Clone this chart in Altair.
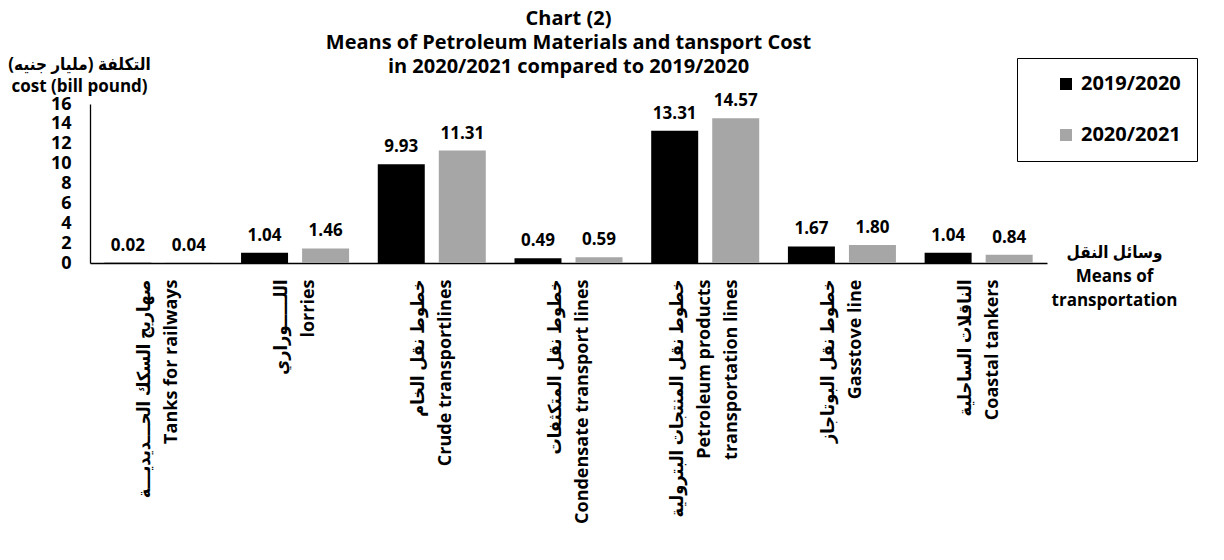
import altair as alt
import pandas as pd

F = "Open Sans, DejaVu Sans Condensed, DejaVu Sans, sans-serif"

arabic = [
    "صهاريج السكك الحـــديديـــة",
    "اللـــــوراري",
    "خطوط نقل الخام",
    "خطوط نقل المتكثفات",
    "خطوط نقل المنتجات البترولية",
    "خطوط نقل البوتاجاز",
    "الناقلات الساحلية",
]
english = [
    "Tanks  for railways",
    "lorries",
    "Crude transportlines",
    "Condensate transport lines",
    "Petroleum products|transportation lines",
    "Gasstove line",
    "Coastal  tankers",
]
years = ["2019/2020", "2020/2021"]
v2019 = [0.02, 1.04, 9.93, 0.49, 13.31, 1.67, 1.04]
v2020 = [0.04, 1.46, 11.31, 0.59, 14.57, 1.80, 0.84]
y_ticks = [0, 2, 4, 6, 8, 10, 12, 14, 16]

categories = [a + "|" + e for a, e in zip(arabic, english)]

rows = []
for c, a, b in zip(categories, v2019, v2020):
    rows.append({"cat": c, "year": years[0], "value": a})
    rows.append({"cat": c, "year": years[1], "value": b})
df = pd.DataFrame(rows)

base = alt.Chart(df).encode(
    x=alt.X(
        "cat:N",
        sort=categories,
        scale=alt.Scale(paddingInner=0, paddingOuter=0),
        axis=alt.Axis(
            labelExpr="split(datum.label, '|')",
            labelAngle=270,
            labelAlign="right",
            labelBaseline="middle",
            labelPadding=16,
            labelFontSize=18,
            labelLineHeight=27,
            labelFontWeight="bold",
            labelFont=F,
            labelColor="black",
            labelLimit=400,
            labelOffset={
                "condition": {
                    "test": "indexof(datum.value, 'transportation lines') >= 0",
                    "value": -27,
                },
                "value": -13,
            },
            ticks=False,
            domainColor="black",
            domainWidth=1.3,
            title=["وسائل النقل", "Means of", "transportation"],
            titleAngle=0,
            titleAlign="center",
            titleBaseline="top",
            titleX=1024,
            titleY=-19,
            titleLineHeight=24,
            titleFontSize=17,
            titleFontWeight="bold",
            titleFont=F,
            titleColor="black",
            titleLimit=300,
        ),
    ),
    xOffset=alt.XOffset(
        "year:N", sort=years, scale=alt.Scale(paddingInner=0.23, paddingOuter=0.235)
    ),
    y=alt.Y(
        "value:Q",
        scale=alt.Scale(domain=[0, 16], nice=False),
        axis=alt.Axis(
            values=y_ticks,
            grid=False,
            ticks=False,
            tickSize=0,
            labelPadding=19,
            labelFontSize=18,
            labelFontWeight="bold",
            labelFont=F,
            labelColor="black",
            domainColor="black",
            domainWidth=1.3,
            title=["التكلفة  (مليار جنيه)\u200f", "cost (bill pound)"],
            titleAngle=0,
            titleAlign="center",
            titleBaseline="top",
            titleX=-11,
            titleY=-48,
            titleLineHeight=22,
            titleFontSize=17,
            titleFontWeight="bold",
            titleFont=F,
            titleColor="black",
            titleLimit=300,
        ),
    ),
)

bars = base.mark_bar().encode(
    color=alt.Color(
        "year:N",
        sort=years,
        scale=alt.Scale(domain=years, range=["#000000", "#a6a6a6"]),
        legend=alt.Legend(
            orient="none",
            legendX=927,
            legendY=-46,
            title=" ",
            titleOrient="left",
            titlePadding=23,
            titleFontSize=17,
            padding=16,
            rowPadding=31,
            strokeColor="black",
            fillColor="white",
            symbolType="square",
            symbolSize=144,
            symbolStrokeWidth=0,
            labelFontSize=20,
            labelFontWeight="bold",
            labelFont=F,
            labelColor="black",
            labelOffset=5,
        ),
    )
)

text = base.mark_text(
    dy=-12, baseline="alphabetic", fontSize=17, fontWeight="bold", font=F, color="black"
).encode(text=alt.Text("value:Q", format=".2f"))

chart = (
    alt.layer(bars, text)
    .properties(
        width=957,
        height=159,
        autosize=alt.AutoSizeParams(type="none"),
        padding={"left": 82, "top": 96, "right": 169, "bottom": 289},
        title=alt.TitleParams(
            text=[
                "Chart (2)",
                "Means of Petroleum Materials and tansport Cost",
                "in 2020/2021 compared to 2019/2020",
            ],
            fontSize=20,
            fontWeight="bold",
            font=F,
            color="black",
            lineHeight=24,
            anchor="middle",
            frame="group",
            offset=-22,
        ),
    )
    .configure_view(stroke=None)
)

chart.save("out.html", embed_options={"renderer": "svg", "actions": False})
